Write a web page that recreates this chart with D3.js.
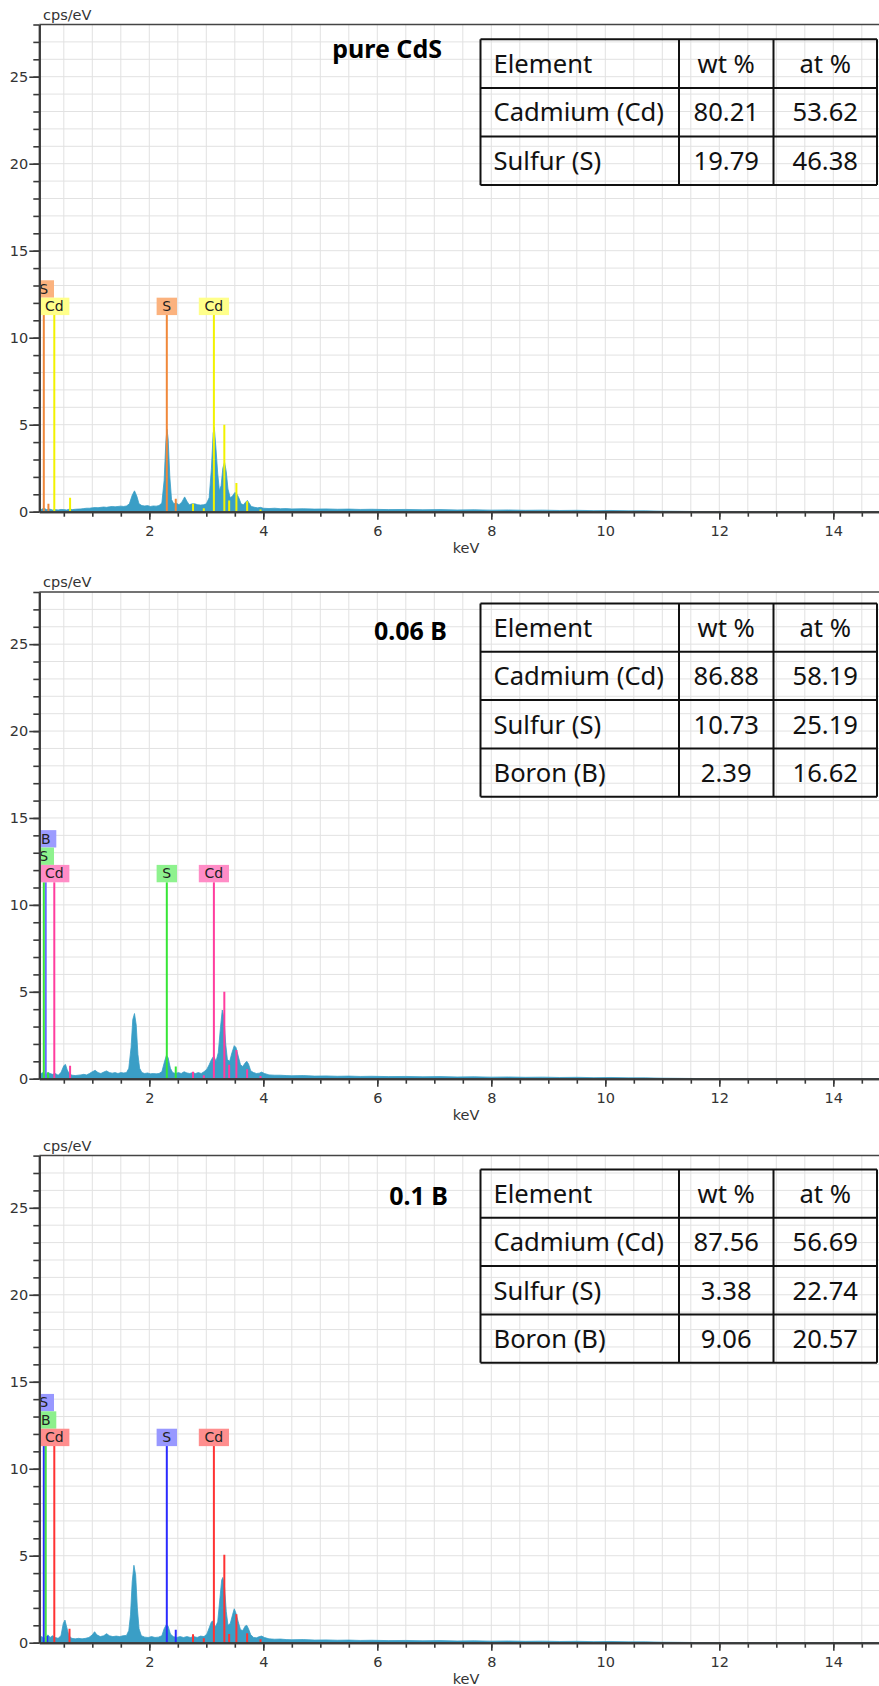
<!DOCTYPE html>
<html><head><meta charset="utf-8">
<script src="https://cdn.jsdelivr.net/npm/d3@7"></script>
<style>body{margin:0;background:#fff;overflow:hidden}</style>
</head><body>
<script>
// ---------- data ----------
const xMajorTicks = [2, 4, 6, 8, 10, 12, 14];
const yMajorTicks = [0, 5, 10, 15, 20, 25];
const tableHeader = ["Element", "wt %", "at %"];

const sampleNames = ["pure CdS", "0.06 B", "0.1 B"];

const elements1 = ["Cadmium (Cd)", "Sulfur (S)"];
const wt1 = [80.21, 19.79];
const at1 = [53.62, 46.38];

const elements2 = ["Cadmium (Cd)", "Sulfur (S)", "Boron (B)"];
const wt2 = [86.88, 10.73, 2.39];
const at2 = [58.19, 25.19, 16.62];

const elements3 = ["Cadmium (Cd)", "Sulfur (S)", "Boron (B)"];
const wt3 = [87.56, 3.38, 9.06];
const at3 = [56.69, 22.74, 20.57];

// spectra: [keV, cps/eV]
const spectrum1 = [
[0.07,0.05],[0.10,0.12],[0.15,0.2],[0.20,0.12],[0.25,0.15],[0.30,0.1],[0.35,0.12],[0.40,0.1],[0.45,0.13],[0.50,0.12],
[0.55,0.1],[0.60,0.15],[0.65,0.12],[0.70,0.14],[0.75,0.15],[0.80,0.16],[0.85,0.18],[0.90,0.2],[0.95,0.2],[1.00,0.22],
[1.05,0.24],[1.10,0.23],[1.15,0.25],[1.20,0.27],[1.25,0.25],[1.30,0.28],[1.35,0.3],[1.40,0.28],[1.45,0.3],[1.50,0.32],
[1.55,0.3],[1.60,0.33],[1.65,0.45],[1.70,0.95],[1.74,1.2],[1.78,0.9],[1.82,0.45],[1.87,0.35],[1.92,0.33],[1.97,0.35],
[2.02,0.3],[2.07,0.33],[2.12,0.32],[2.17,0.35],[2.22,0.5],[2.26,1.8],[2.29,4.0],[2.31,4.75],[2.33,4.2],[2.36,2.0],
[2.39,0.7],[2.43,0.45],[2.47,0.5],[2.52,0.4],[2.57,0.55],[2.62,0.85],[2.66,0.6],[2.70,0.4],[2.75,0.45],[2.80,0.45],
[2.85,0.4],[2.90,0.38],[2.95,0.4],[3.00,0.45],[3.05,0.8],[3.09,2.5],[3.12,4.5],[3.14,4.85],[3.17,3.6],[3.20,2.2],
[3.23,1.2],[3.26,1.5],[3.29,2.5],[3.32,2.85],[3.35,2.3],[3.38,1.3],[3.42,0.8],[3.46,0.9],[3.50,1.1],[3.53,1.05],
[3.57,0.8],[3.61,0.45],[3.65,0.4],[3.69,0.55],[3.72,0.65],[3.75,0.5],[3.79,0.3],[3.85,0.25],[3.90,0.22],[3.95,0.25],
[4.00,0.2],[4.1,0.18],[4.2,0.2],[4.3,0.17],[4.4,0.18],[4.5,0.16],[4.7,0.17],[4.9,0.15],[5.1,0.16],[5.3,0.14],
[5.5,0.15],[5.7,0.13],[5.9,0.14],[6.2,0.12],[6.5,0.13],[6.8,0.11],[7.1,0.12],[7.4,0.1],[7.7,0.11],[8.0,0.09],
[8.3,0.1],[8.6,0.08],[8.9,0.09],[9.2,0.07],[9.5,0.08],[9.8,0.06],[10.1,0.07],[10.4,0.05],[10.7,0.05],[11.0,0.03],
[11.3,0.02],[11.6,0.01],[12.0,0],[15.0,0]
];
const spectrum2 = [
[0.07,0.1],[0.10,0.3],[0.14,0.35],[0.18,0.2],[0.22,0.35],[0.26,0.3],[0.30,0.25],[0.35,0.3],[0.40,0.2],[0.45,0.35],
[0.50,0.75],[0.53,0.82],[0.56,0.5],[0.60,0.25],[0.65,0.2],[0.70,0.18],[0.75,0.2],[0.80,0.22],[0.85,0.25],[0.90,0.22],
[0.95,0.3],[1.00,0.4],[1.05,0.48],[1.10,0.35],[1.15,0.3],[1.20,0.38],[1.25,0.45],[1.30,0.35],[1.35,0.32],[1.40,0.35],
[1.45,0.3],[1.50,0.35],[1.55,0.33],[1.60,0.35],[1.64,0.6],[1.68,1.8],[1.71,3.4],[1.74,3.75],[1.77,3.1],[1.80,1.4],
[1.83,0.6],[1.87,0.35],[1.92,0.3],[1.97,0.33],[2.02,0.28],[2.07,0.3],[2.12,0.28],[2.17,0.3],[2.22,0.4],[2.26,0.9],
[2.30,1.35],[2.33,1.2],[2.37,0.6],[2.41,0.35],[2.46,0.3],[2.51,0.35],[2.56,0.3],[2.61,0.4],[2.66,0.33],[2.71,0.3],
[2.76,0.35],[2.81,0.3],[2.86,0.35],[2.91,0.3],[2.96,0.4],[3.01,0.55],[3.05,0.8],[3.09,1.1],[3.13,1.3],[3.17,1.0],
[3.21,1.5],[3.25,3.0],[3.28,3.95],[3.31,3.5],[3.34,2.0],[3.37,1.1],[3.41,1.0],[3.45,1.5],[3.49,1.9],[3.52,1.8],
[3.56,1.3],[3.60,0.8],[3.64,0.7],[3.68,0.9],[3.71,1.0],[3.74,0.85],[3.78,0.45],[3.83,0.35],[3.88,0.3],[3.93,0.32],
[3.97,0.38],[4.02,0.3],[4.1,0.22],[4.2,0.2],[4.3,0.2],[4.4,0.18],[4.5,0.17],[4.7,0.18],[4.9,0.15],[5.1,0.16],
[5.3,0.14],[5.5,0.15],[5.7,0.13],[5.9,0.14],[6.2,0.12],[6.5,0.13],[6.8,0.11],[7.1,0.12],[7.4,0.1],[7.7,0.11],
[8.0,0.09],[8.3,0.1],[8.6,0.08],[8.9,0.09],[9.2,0.07],[9.5,0.08],[9.8,0.06],[10.1,0.07],[10.4,0.05],[10.7,0.05],
[11.0,0.03],[11.3,0.02],[11.6,0.01],[12.0,0],[15.0,0]
];
const spectrum3 = [
[0.07,0.1],[0.10,0.35],[0.14,0.3],[0.18,0.25],[0.22,0.45],[0.26,0.3],[0.30,0.4],[0.35,0.3],[0.40,0.25],[0.45,0.4],
[0.49,1.1],[0.52,1.3],[0.55,0.9],[0.59,0.4],[0.64,0.25],[0.70,0.22],[0.76,0.25],[0.82,0.22],[0.88,0.25],[0.94,0.3],
[1.00,0.45],[1.04,0.63],[1.08,0.45],[1.14,0.35],[1.20,0.4],[1.25,0.52],[1.30,0.4],[1.36,0.35],[1.42,0.38],[1.48,0.35],
[1.54,0.4],[1.60,0.42],[1.64,0.7],[1.67,1.6],[1.70,3.5],[1.73,4.45],[1.76,3.9],[1.79,2.0],[1.82,0.8],[1.86,0.4],
[1.92,0.32],[1.98,0.3],[2.04,0.35],[2.10,0.3],[2.16,0.32],[2.22,0.4],[2.26,0.8],[2.30,1.05],[2.33,0.95],[2.37,0.5],
[2.42,0.35],[2.48,0.3],[2.54,0.35],[2.60,0.3],[2.66,0.35],[2.72,0.3],[2.78,0.35],[2.84,0.3],[2.90,0.38],[2.96,0.35],
[3.01,0.5],[3.05,0.85],[3.09,1.2],[3.12,1.25],[3.16,0.9],[3.20,1.2],[3.24,2.6],[3.27,3.6],[3.29,3.75],[3.32,3.2],
[3.35,1.8],[3.38,1.0],[3.42,1.1],[3.46,1.6],[3.49,1.95],[3.52,1.7],[3.56,1.2],[3.60,0.75],[3.64,0.7],[3.68,0.95],
[3.71,1.0],[3.74,0.8],[3.78,0.45],[3.83,0.3],[3.88,0.28],[3.93,0.35],[3.97,0.38],[4.02,0.3],[4.1,0.22],[4.2,0.2],
[4.3,0.21],[4.4,0.18],[4.5,0.17],[4.7,0.18],[4.9,0.15],[5.1,0.16],[5.3,0.14],[5.5,0.15],[5.7,0.13],[5.9,0.14],
[6.2,0.12],[6.5,0.13],[6.8,0.11],[7.1,0.12],[7.4,0.1],[7.7,0.11],[8.0,0.09],[8.3,0.1],[8.6,0.08],[8.9,0.09],
[9.2,0.07],[9.5,0.08],[9.8,0.06],[10.1,0.07],[10.4,0.05],[10.7,0.05],[11.0,0.03],[11.3,0.02],[11.6,0.01],[12.0,0],[15.0,0]
];

// labelled element lines: [element, keV, stack level]
const labelLines1 = [["S",0.149,1],["Cd",0.333,0],["S",2.307,0],["Cd",3.133,0]];
const labelLines2 = [["B",0.183,2],["S",0.149,1],["Cd",0.333,0],["S",2.307,0],["Cd",3.133,0]];
const labelLines3 = [["S",0.149,2],["B",0.183,1],["Cd",0.333,0],["S",2.307,0],["Cd",3.133,0]];
// minor element lines: [element, keV, height cps/eV]
const minorLines1 = [["S",0.23,0.45],["Cd",0.61,0.8],["S",2.464,0.75],["Cd",2.767,0.45],["Cd",2.956,0.2],["Cd",3.316,5.0],["Cd",3.401,0.65],["Cd",3.528,1.65],["Cd",3.716,0.6],["Cd",3.951,0.12]];
const minorLines2 = [["S",0.22,0.35],["Cd",0.61,0.75],["S",2.464,0.7],["Cd",2.767,0.4],["Cd",2.956,0.2],["Cd",3.316,5.0],["Cd",3.401,0.8],["Cd",3.528,1.65],["Cd",3.716,0.55],["Cd",3.951,0.15]];
const minorLines3 = [["S",0.21,0.38],["Cd",0.6,0.8],["S",2.464,0.75],["Cd",2.767,0.48],["Cd",2.956,0.25],["Cd",3.316,5.05],["Cd",3.401,0.5],["Cd",3.528,1.63],["Cd",3.716,0.55],["Cd",3.951,0.2]];

// ---------- styles ----------
const colors1 = {S:{line:"#f0883a",box:"#fbb27e"}, Cd:{line:"#f2f200",box:"#ffff8a"}};
const colors2 = {B:{line:"#6a6aff",box:"#9c9cff"}, S:{line:"#36e636",box:"#8ef28e"}, Cd:{line:"#ff3d9e",box:"#ff8cc6"}};
const colors3 = {S:{line:"#2b2bff",box:"#9898ff"}, B:{line:"#45e045",box:"#8cf08c"}, Cd:{line:"#ff3333",box:"#ff8e8e"}};

const W = 879, H = 1686;
const axisFont = "'DejaVu Sans', Verdana, sans-serif";
const tableFont = "'Noto Sans', 'Open Sans', sans-serif";
const specColor = "#3a9ec6";

const panels = [
  {top:24.5, bottom:511.7, spec:spectrum1, lab:labelLines1, minor:minorLines1, col:colors1, name:sampleNames[0],
   nameX:442, nameY:58, tTop:39.3, rowH:48.6, el:elements1, wt:wt1, at:at1},
  {top:592, bottom:1078.7, spec:spectrum2, lab:labelLines2, minor:minorLines2, col:colors2, name:sampleNames[1],
   nameX:447, nameY:640, tTop:603.5, rowH:48.3, el:elements2, wt:wt2, at:at2},
  {top:1155.6, bottom:1642.7, spec:spectrum3, lab:labelLines3, minor:minorLines3, col:colors3, name:sampleNames[2],
   nameX:448, nameY:1205, tTop:1169.5, rowH:48.3, el:elements3, wt:wt3, at:at3}
];

const svg = d3.select("body").append("svg").attr("width", W).attr("height", H)
  .style("display","block");

const axisX0 = 39.3;
const x = d3.scaleLinear().domain([0.07, 15]).range([axisX0, axisX0 + 57 * 14.93]);
const tableX = [480.5, 679, 773.5, 877];

panels.forEach((p, i) => {
  const y = d3.scaleLinear().domain([0, 28]).range([p.bottom, p.top]);
  const g = svg.append("g");
  const clipId = "clip" + i;
  g.append("clipPath").attr("id", clipId).append("rect")
    .attr("x", axisX0).attr("y", p.top).attr("width", W - axisX0).attr("height", p.bottom - p.top);

  // grid
  const grid = g.append("g").attr("clip-path", `url(#${clipId})`);
  grid.selectAll("line.v").data(d3.range(1, 30).map(k => k * 0.5)).join("line")
    .attr("x1", d => x(d)).attr("x2", d => x(d)).attr("y1", p.top).attr("y2", p.bottom)
    .attr("stroke", "#e2e2e2").attr("stroke-width", 1);
  grid.selectAll("line.h").data(d3.range(1, 28)).join("line")
    .attr("x1", axisX0).attr("x2", W).attr("y1", d => y(d)).attr("y2", d => y(d))
    .attr("stroke", "#e2e2e2").attr("stroke-width", 1);

  // spectrum
  const area = d3.area().x(d => x(d[0])).y0(y(0)).y1(d => y(d[1]));
  const plot = g.append("g").attr("clip-path", `url(#${clipId})`);
  plot.append("path").datum(p.spec).attr("d", area)
    .attr("fill", specColor).attr("stroke", specColor).attr("stroke-width", 0.8);

  // minor element lines
  plot.selectAll("line.minor").data(p.minor).join("line")
    .attr("x1", d => x(d[1])).attr("x2", d => x(d[1]))
    .attr("y1", y(0)).attr("y2", d => y(d[2]))
    .attr("stroke", d => p.col[d[0]].line).attr("stroke-width", 2);

  // labelled lines
  const boxBase = 11.3;
  plot.selectAll("line.lab").data(p.lab).join("line")
    .attr("x1", d => x(d[1])).attr("x2", d => x(d[1]))
    .attr("y1", y(0)).attr("y2", y(boxBase))
    .attr("stroke", d => p.col[d[0]].line).attr("stroke-width", 2);
  const labs = plot.selectAll("g.lab").data(p.lab).join("g");
  labs.each(function(d) {
    const sel = d3.select(this);
    const t = sel.append("text").text(d[0])
      .attr("font-family", axisFont).attr("font-size", 14).attr("fill", "#222")
      .attr("text-anchor", "middle")
      .attr("x", x(d[1])).attr("y", y(boxBase + d[2]) - 4);
    const tw = t.node().getComputedTextLength();
    const bw = tw + 11.5;
    sel.insert("rect", "text")
      .attr("x", x(d[1]) - bw / 2).attr("width", bw)
      .attr("y", y(boxBase + d[2] + 1)).attr("height", y(boxBase + d[2]) - y(boxBase + d[2] + 1))
      .attr("fill", p.col[d[0]].box);
  });

  // top border
  g.append("line").attr("x1", axisX0).attr("x2", W).attr("y1", y(28)).attr("y2", y(28))
    .attr("stroke", "#444").attr("stroke-width", 1.5);

  // y axis
  const yMinor = g.append("g").attr("transform", `translate(${axisX0},0)`)
    .call(d3.axisLeft(y).tickValues(d3.range(0, 29)).tickSize(6).tickSizeOuter(0).tickFormat(""));
  const yMaj = g.append("g").attr("transform", `translate(${axisX0},0)`)
    .call(d3.axisLeft(y).tickValues(yMajorTicks).tickSize(10).tickPadding(1).tickSizeOuter(0));
  [yMinor, yMaj].forEach(a => {
    a.select(".domain").attr("stroke", "#3a3a3a").attr("stroke-width", 2);
    a.selectAll(".tick line").attr("stroke", "#3a3a3a").attr("stroke-width", 1.6);
  });
  yMaj.selectAll("text").attr("font-family", axisFont).attr("font-size", 14.5).attr("fill", "#333");

  // x axis
  const xMinor = g.append("g").attr("transform", `translate(0,${p.bottom})`)
    .call(d3.axisBottom(x).tickValues(d3.range(1, 30).map(k => k * 0.5)).tickSize(5).tickSizeOuter(0).tickFormat(""));
  const xMaj = g.append("g").attr("transform", `translate(0,${p.bottom})`)
    .call(d3.axisBottom(x).tickValues(xMajorTicks).tickSize(8).tickPadding(6).tickSizeOuter(0));
  [xMinor, xMaj].forEach(a => {
    a.select(".domain").attr("stroke", "#3a3a3a").attr("stroke-width", 2);
    a.selectAll(".tick line").attr("stroke", "#3a3a3a").attr("stroke-width", 1.6);
  });
  xMaj.selectAll("text").attr("font-family", axisFont).attr("font-size", 14.5).attr("fill", "#333");

  // axis titles
  g.append("text").text("cps/eV").attr("x", 43).attr("y", p.top - 5)
    .attr("font-family", axisFont).attr("font-size", 14.5).attr("fill", "#333");
  g.append("text").text("keV").attr("x", 466).attr("y", p.bottom + 41.5).attr("text-anchor", "middle")
    .attr("font-family", axisFont).attr("font-size", 14.5).attr("fill", "#333");

  // sample name
  g.append("text").text(p.name).attr("x", p.nameX).attr("y", p.nameY).attr("text-anchor", "end")
    .attr("font-family", tableFont).attr("font-weight", "bold").attr("font-size", 25).attr("fill", "#000");

  // table
  const rows = [tableHeader].concat(p.el.map((e, j) => [e, p.wt[j].toFixed(2), p.at[j].toFixed(2)]));
  const nRows = rows.length;
  const tb = g.append("g");
  const tBottom = p.tTop + nRows * p.rowH;
  tb.selectAll("line.hr").data(d3.range(nRows + 1)).join("line")
    .attr("x1", tableX[0]).attr("x2", tableX[3])
    .attr("y1", r => p.tTop + r * p.rowH).attr("y2", r => p.tTop + r * p.rowH)
    .attr("stroke", "#111").attr("stroke-width", 2);
  tb.selectAll("line.vr").data(tableX).join("line")
    .attr("x1", d => d).attr("x2", d => d).attr("y1", p.tTop).attr("y2", tBottom)
    .attr("stroke", "#111").attr("stroke-width", 2);
  rows.forEach((r, ri) => {
    const by = p.tTop + ri * p.rowH + 33.5;
    tb.append("text").text(r[0]).attr("x", tableX[0] + 13).attr("y", by)
      .attr("font-family", tableFont).attr("font-size", 25.6).attr("fill", "#111");
    tb.append("text").text(r[1]).attr("x", (tableX[1] + tableX[2]) / 2).attr("y", by)
      .attr("text-anchor", "middle").attr("font-family", tableFont).attr("font-size", 25.6).attr("fill", "#111");
    tb.append("text").text(r[2]).attr("x", (tableX[2] + tableX[3]) / 2).attr("y", by)
      .attr("text-anchor", "middle").attr("font-family", tableFont).attr("font-size", 25.6).attr("fill", "#111");
  });
});
</script>
</body></html>
